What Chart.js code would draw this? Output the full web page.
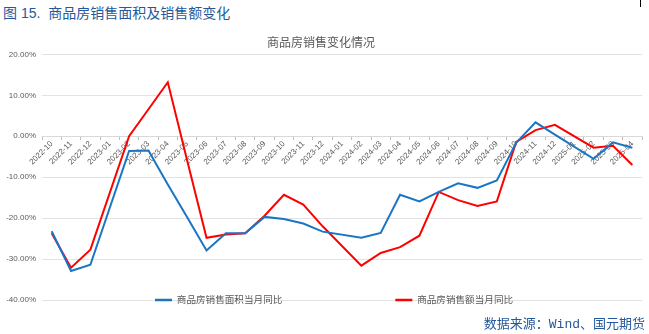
<!DOCTYPE html>
<html><head><meta charset="utf-8">
<script src="https://cdn.jsdelivr.net/npm/chart.js@4/dist/chart.umd.min.js"></script>
<style>
html,body{margin:0;padding:0;background:#fff;width:649px;height:334px;overflow:hidden;position:relative;font-family:"Liberation Sans","Noto Sans CJK SC",sans-serif;}
#hdr{position:absolute;left:3px;top:5px;font-size:14px;line-height:16px;color:#24589C;white-space:pre;}
#src{position:absolute;right:4px;top:317px;font-size:13px;line-height:16px;color:#24589C;font-family:"Liberation Mono","Noto Sans CJK SC",monospace;}
#mark{position:absolute;left:640px;top:0;width:1px;height:7px;background:#000;}
#wrap{position:absolute;left:0;top:28px;width:649px;height:290px;}
</style></head>
<body>
<div id="hdr">图 15.  商品房销售面积及销售额变化</div>
<div id="mark"></div>
<div id="wrap"><canvas id="c"></canvas></div>
<div id="src">数据来源：Wind、国元期货</div>
<script>
const categories = ['2022-10','2022-11','2022-12','2023-01','2023-02','2023-03','2023-04','2023-05','2023-06','2023-07','2023-08','2023-09','2023-10','2023-11','2023-12','2024-01','2024-02','2024-03','2024-04','2024-05','2024-06','2024-07','2024-08','2024-09','2024-10','2024-11','2024-12','2025-01','2025-02','2025-03','2025-04'];
const areaYoY = [-23.2,-32.9,-31.4,null,-3.6,-3.5,-11.8,-19.8,-27.9,-23.7,-23.7,-19.7,-20.2,-21.3,-23.3,null,-24.8,-23.6,-14.3,-15.9,-13.6,-11.5,-12.6,-10.8,-1.6,3.4,0.4,null,-5.5,-1.5,-2.8];
const amountYoY = [-23.7,-32.1,-27.7,null,0.0,6.6,13.2,-5.9,-24.8,-24.0,-23.7,-19.4,-14.3,-16.7,-22.0,null,-31.6,-28.5,-27.1,-24.3,-13.6,-15.6,-17.0,-15.9,-1.4,1.5,2.8,null,-2.8,-2.3,-7.0];
const seriesNames = ['商品房销售面积当月同比','商品房销售额当月同比'];
const chartTitle = '商品房销售变化情况';
const yMin = -40, yMax = 20, yStep = 10;

const legendPad = 113;
const legendFont = 9.6;

const legendOnGrid = {
  id: 'legendOnGrid',
  afterLayout(chart) {
    const lg = chart.legend;
    if (!lg) return;
    lg.top = chart.chartArea.bottom - legendPad - legendFont / 2;
    lg.bottom = lg.top + legendPad + legendFont + 6;
  }
};

const baseFont = '"Liberation Sans","Noto Sans CJK SC",sans-serif';

new Chart(document.getElementById('c'), {
  type: 'line',
  data: {
    labels: categories,
    datasets: [
      {label: seriesNames[0], data: areaYoY, borderColor: '#1A75C4', backgroundColor: '#1A75C4', borderWidth: 2, pointRadius: 0, tension: 0, spanGaps: true},
      {label: seriesNames[1], data: amountYoY, borderColor: '#FF0000', backgroundColor: '#FF0000', borderWidth: 2, pointRadius: 0, tension: 0, spanGaps: true}
    ]
  },
  options: {
    responsive: true,
    maintainAspectRatio: false,
    animation: false,
    layout: {padding: {left: 0, right: 7, top: 0, bottom: 8}},
    plugins: {
      title: {display: true, text: chartTitle, color: '#595959', font: {family: baseFont, size: 12, weight: 'normal'}, padding: {top: 8, bottom: 4}},
      legend: {
        position: 'bottom', align: 'start', fullSize: false, maxHeight: 10,
        labels: {
          color: '#595959', font: {family: baseFont, size: legendFont}, boxWidth: 17, boxHeight: 2.5, padding: legendPad,
          generateLabels(chart) {
            return Chart.defaults.plugins.legend.labels.generateLabels(chart).map(l => Object.assign(l, {lineWidth: 0}));
          }
        }
      },
      tooltip: {enabled: false}
    },
    scales: {
      x: {
        type: 'category',
        position: {y: 0},
        offset: true,
        afterFit(s) { s.height = 0; },
        grid: {display: true, drawOnChartArea: false, drawTicks: true, tickLength: 3, offset: true, color: '#BFBFBF'},
        border: {display: true, color: '#D9D9D9'},
        ticks: {autoSkip: false, maxRotation: 45, minRotation: 45, padding: 0, color: '#595959', font: {family: baseFont, size: 8}}
      },
      y: {
        min: yMin, max: yMax,
        afterFit(s) { s.width = 42; },
        grid: {color: '#E3E3E3', drawTicks: false},
        border: {display: false},
        ticks: {stepSize: yStep, padding: 6, color: '#595959', font: {family: baseFont, size: 8}, callback: v => v.toFixed(2) + '%'}
      }
    }
  },
  plugins: [legendOnGrid]
});
</script>
</body></html>
